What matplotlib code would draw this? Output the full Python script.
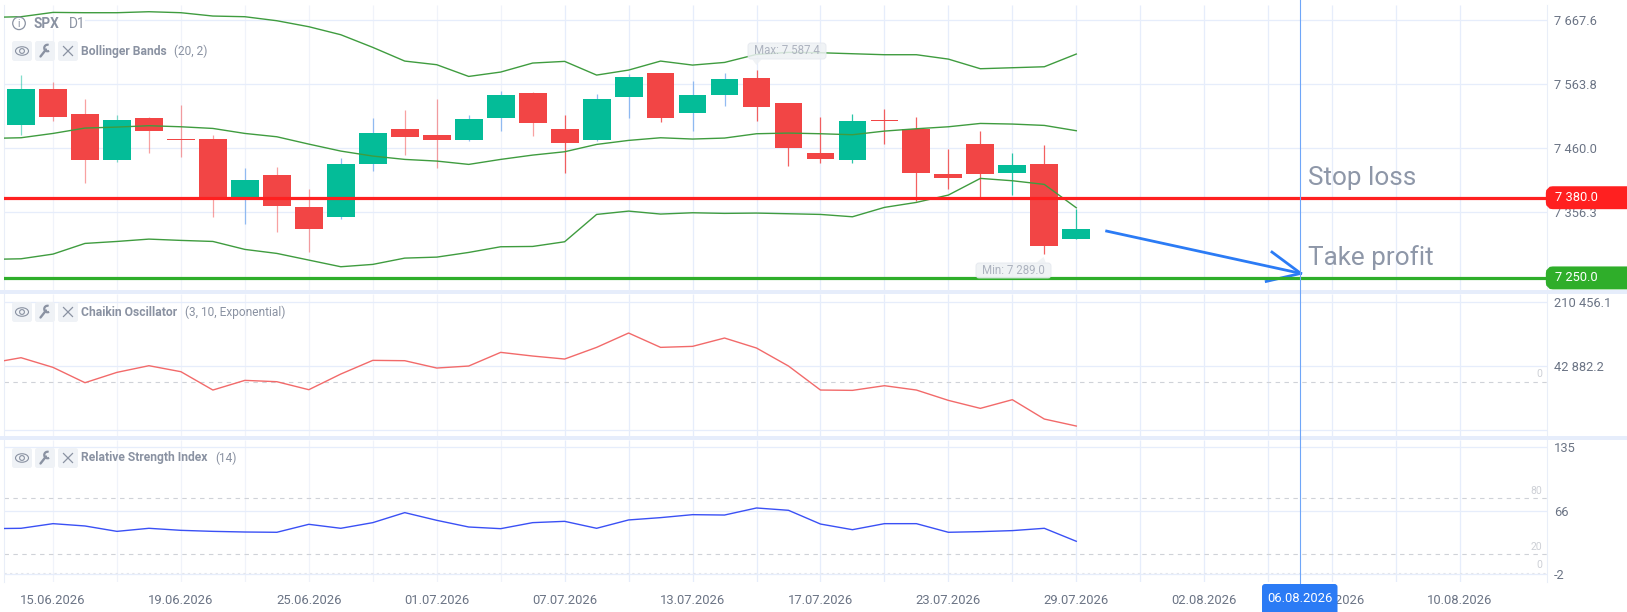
import matplotlib
matplotlib.use("Agg")
import matplotlib.pyplot as plt
from matplotlib.patches import Circle, Ellipse, Arc, FancyBboxPatch, Polygon, Rectangle

plt.rcParams['font.family'] = ['Roboto', 'DejaVu Sans']

W, H = 1627, 612

# candles, one per session
opens = [7497.7, 7555.6, 7515.6, 7441.0, 7509.1, 7475.6, 7475.6, 7378.3, 7417.2, 7364.3, 7348.6, 7434.5,
         7490.7, 7481.0, 7473.4, 7509.1, 7549.1, 7491.3, 7473.4, 7543.1, 7581.5, 7517.7, 7546.9, 7574.0,
         7532.9, 7452.9, 7441.6, 7505.9, 7491.3, 7418.3, 7467.0, 7420.0, 7434.5, 7313.0]
closes = [7555.6, 7510.2, 7441.0, 7505.9, 7488.6, 7474.0, 7380.5, 7408.6, 7367.0, 7329.7, 7434.5, 7485.3,
          7477.8, 7474.0, 7507.5, 7546.4, 7501.5, 7469.1, 7539.9, 7575.6, 7509.6, 7546.9, 7572.3, 7526.4,
          7460.0, 7443.2, 7504.2, 7503.7, 7419.4, 7411.8, 7418.3, 7433.4, 7301.6, 7329.7]
highs = [7578.8, 7566.9, 7539.4, 7514.5, 7510.2, 7530.2, 7481.5, 7428.6, 7429.1, 7393.5, 7444.8, 7509.1,
         7522.1, 7539.9, 7514.0, 7552.9, 7550.7, 7514.0, 7548.0, 7579.9, 7581.5, 7569.1, 7582.6, 7587.4,
         7532.9, 7511.3, 7515.6, 7524.2, 7510.7, 7458.8, 7488.6, 7451.8, 7465.3, 7361.0]
lows = [7481.5, 7504.8, 7404.3, 7437.8, 7452.9, 7445.3, 7349.1, 7337.3, 7324.8, 7292.4, 7344.8, 7423.2,
        7449.1, 7428.6, 7471.8, 7488.6, 7479.9, 7420.5, 7472.4, 7509.6, 7503.1, 7488.0, 7529.1, 7504.8,
        7431.8, 7436.7, 7435.6, 7467.0, 7374.5, 7394.0, 7381.6, 7384.3, 7289.0, 7312.4]

# indicators start one session before the first candle
bb_upper = [7672.3, 7673.4, 7680.4, 7679.9, 7679.9, 7681.5, 7679.9, 7674.5, 7673.4, 7666.9, 7657.2, 7644.2,
            7623.7, 7601.5, 7595.6, 7576.6, 7583.7, 7598.3, 7601.0, 7578.8, 7586.9, 7601.5, 7595.0, 7599.3,
            7612.3, 7615.6, 7615.0, 7613.4, 7611.8, 7611.8, 7604.7, 7589.1, 7590.7, 7592.3, 7612.9]
bb_middle = [7476.1, 7477.2, 7484.2, 7492.9, 7494.5, 7496.7, 7495.0, 7492.3, 7484.2, 7478.8, 7466.9, 7455.6,
             7447.5, 7442.1, 7439.4, 7434.0, 7442.1, 7449.1, 7454.5, 7466.4, 7472.9, 7477.2, 7475.1, 7476.7,
             7483.7, 7484.8, 7483.7, 7482.1, 7488.0, 7491.8, 7495.0, 7500.4, 7499.4, 7497.2, 7488.6]
bb_lower = [7280.0, 7281.0, 7288.6, 7305.9, 7309.1, 7312.9, 7310.8, 7309.1, 7296.2, 7289.7, 7278.9, 7268.1,
            7271.9, 7282.1, 7283.7, 7291.3, 7300.5, 7301.0, 7308.6, 7352.9, 7358.3, 7353.5, 7355.6, 7354.6,
            7355.1, 7354.0, 7352.9, 7349.1, 7364.3, 7372.4, 7384.3, 7411.3, 7407.5, 7401.6, 7363.7]
chaikin = [48992, 63829, 38518, -1631, 25426, 42882, 27172, -20832, 4479, 988, -19960, 21062,
           56847, 55974, 36772, 42009, 77794, 68193, 60338, 90886, 128416, 90886, 93504, 115324,
           89140, 42009, -20832, -21705, -9486, -20832, -47889, -68836, -46144, -96766, -115095]
rsi = [47.3, 47.7, 52.7, 50.2, 44.4, 47.7, 45.5, 44.4, 43.7, 43.4, 52.0, 47.7,
       53.8, 64.6, 56.3, 49.1, 47.3, 53.8, 55.2, 47.7, 56.7, 59.2, 62.4, 62.0,
       69.6, 67.1, 52.3, 46.2, 52.7, 52.7, 43.4, 44.1, 45.2, 47.7, 33.7]

# levels and axis labels
stop_loss = 7380.0
take_profit = 7250.0
price_ticks = [7667.6, 7563.8, 7460.0, 7356.3]
price_labels = ['7 667.6', '7 563.8', '7 460.0', '7 356.3']
chaikin_ticks = [210456.1, 42882.2, -124691.7]
chaikin_labels = ['210 456.1', '42 882.2', '']
rsi_ticks = [135, 66, -2]
rsi_labels = ['135', '66', '-2']
rsi_levels = [80, 20]
date_ticks = [1, 5, 9, 13, 17, 21, 25, 29, 33, 37, 41, 45]
date_labels = ['15.06.2026', '19.06.2026', '25.06.2026', '01.07.2026', '07.07.2026', '13.07.2026',
               '17.07.2026', '23.07.2026', '29.07.2026', '02.08.2026', '07.08.2026', '10.08.2026']
grid_ticks = list(range(1, 47, 2))
cursor_session = 40
cursor_label = '06.08.2026'
arrow_x = [33.95, 40.02]
arrow_y = [7325.9, 7257.3]
arrow_wing_x = [39.12, 40.02, 38.94]
arrow_wing_y = [7291.9, 7257.3, 7244.3]

GREEN = '#04bc98'
RED = '#f24545'
BAND = '#3f9c3f'
GRID = '#e6edfb'
TEXT = '#6b7485'
MUTED = '#8a92a2'
BLUE = '#2b7bf5'
# these up candles have blue looking wicks in the source picture
blue_wicks = [7, 10, 11, 14, 15, 18, 19, 21, 22]

XLIM = (-0.532, 47.72)


def add_pane(fig, top, bottom, ylim):
    """Axes placed by pixel rows, sharing the session scale."""
    ax = fig.add_axes([4 / W, 1 - bottom / H, (1547 - 4) / W, (bottom - top) / H])
    ax.set_xlim(*XLIM)
    ax.set_ylim(*ylim)
    ax.patch.set_alpha(0)
    for side in ['top', 'bottom']:
        ax.spines[side].set_visible(False)
    for side in ['left', 'right']:
        ax.spines[side].set_color('#e9eef8')
        ax.spines[side].set_linewidth(0.8)
    ax.yaxis.tick_right()
    ax.tick_params(axis='y', length=0, pad=5.0, labelsize=9.3, labelcolor=TEXT)
    ax.tick_params(axis='x', length=0, pad=9, labelsize=9.35, labelcolor=TEXT)
    ax.set_xticks([])
    colors = ['#f0f3fa' if t < 17 else GRID for t in grid_ticks]
    ax.vlines(grid_ticks, *ylim, colors=colors, linewidth=0.9, zorder=0)
    return ax


def draw_candles(ax):
    for i in range(len(opens)):
        up = closes[i] >= opens[i]
        color = GREEN if up else RED
        wick = '#7fb0f0' if i in blue_wicks else color
        alpha = 0.5 if i < 17 and i not in blue_wicks else 0.85
        ax.vlines(i, lows[i], highs[i], colors=wick, linewidth=0.9, alpha=alpha, zorder=2)
        ax.bar(i, abs(closes[i] - opens[i]), bottom=min(opens[i], closes[i]), width=0.87,
               color=color, edgecolor='none', zorder=3)


def level_tag(ov, y, value, color):
    ov.add_patch(FancyBboxPatch((1550, y - 7.3), 90, 14.6, boxstyle='round,pad=0,rounding_size=3',
                                mutation_aspect=1, facecolor=color, edgecolor=color, linewidth=6,
                                zorder=6, clip_on=True))
    ov.text(1555.5, y, value, color='white', fontsize=9.3, va='center', ha='left', zorder=7)


def hint_tag(ov, box, tip, base, text):
    x0, y0, x1, y1 = box
    ov.add_patch(FancyBboxPatch((x0, y0), x1 - x0, y1 - y0, boxstyle='round,pad=0,rounding_size=3',
                                facecolor='#eef1f4', edgecolor='#e4e8ee', linewidth=0.7, alpha=0.85, zorder=1))
    ov.add_patch(Polygon([base[0], tip, base[1]], facecolor='#eef1f4', edgecolor='none', alpha=0.85, zorder=1))
    ov.text((x0 + x1) / 2, (y0 + y1) / 2, text, color='#adb3bf', fontsize=8.3, ha='center', va='center', zorder=2)


def indicator_row(ov, y, name, params, params_x):
    """Eye, wrench and close buttons followed by the indicator name."""
    for x0 in [12, 35, 58]:
        ov.add_patch(FancyBboxPatch((x0, y - 10), 20, 20, boxstyle='round,pad=0,rounding_size=2.5',
                                    facecolor='#eff2f6', edgecolor='none', zorder=3))
    # eye
    ov.add_patch(Ellipse((22, y), 13, 8.5, fill=False, edgecolor=MUTED, linewidth=0.8, zorder=4))
    ov.add_patch(Circle((22, y), 2.4, fill=False, edgecolor=MUTED, linewidth=0.8, zorder=4))
    # wrench
    ov.plot([40.5, 46], [y + 5.5, y - 1.5], color=MUTED, linewidth=1.7, solid_capstyle='round', zorder=4)
    ov.add_patch(Arc((47.5, y - 3), 6.5, 6.5, theta1=60, theta2=290, edgecolor=MUTED, linewidth=1.6, zorder=4))
    # close
    ov.plot([63.5, 72.5], [y - 4.5, y + 4.5], color=MUTED, linewidth=0.9, zorder=4)
    ov.plot([63.5, 72.5], [y + 4.5, y - 4.5], color=MUTED, linewidth=0.9, zorder=4)
    ov.text(81.3, y, name, color=MUTED, fontsize=8.7, fontweight='bold', va='center', zorder=4)
    ov.text(params_x, y, params, color=MUTED, fontsize=8.6, va='center', zorder=4)


def main():
    fig = plt.figure(figsize=(W / 100, H / 100), dpi=100, facecolor='white')

    price_ax = add_pane(fig, 5, 290, (7230.4, 7692.4))
    osc_ax = add_pane(fig, 294, 436, (-141180, 230617))
    rsi_ax = add_pane(fig, 440, 582, (-10.2, 142.9))
    sessions = list(range(-1, len(opens)))

    # price pane
    price_ax.set_yticks(price_ticks, price_labels)
    price_ax.grid(axis='y', color=GRID, linewidth=0.9, zorder=0)
    draw_candles(price_ax)
    for band in [bb_upper, bb_middle, bb_lower]:
        price_ax.plot(sessions, band, color=BAND, linewidth=1.0, zorder=4)
    price_ax.plot(arrow_x, arrow_y, color=BLUE, linewidth=2.0, zorder=5)
    price_ax.plot(arrow_wing_x, arrow_wing_y, color=BLUE, linewidth=2.0, zorder=5)
    price_ax.axhline(stop_loss, color='#ff2020', linewidth=2.3, zorder=6)
    price_ax.axhline(take_profit, color='#2fae2a', linewidth=2.3, zorder=6)

    # oscillator pane
    osc_ax.set_yticks(chaikin_ticks, chaikin_labels)
    osc_ax.grid(axis='y', color=GRID, linewidth=0.9, zorder=0)
    osc_ax.axhline(0, color='#cfd2d8', linewidth=0.8, linestyle=(0, (4, 4)), zorder=1)
    osc_ax.plot(sessions, chaikin, color='#f26a6a', linewidth=1.0, zorder=3)

    # rsi pane
    rsi_ax.set_yticks(rsi_ticks, rsi_labels)
    rsi_ax.grid(axis='y', color=GRID, linewidth=0.9, zorder=0)
    for level in rsi_levels:
        rsi_ax.axhline(level, color='#cfd2d8', linewidth=0.8, linestyle=(0, (4, 4)), zorder=1)
    rsi_ax.axhline(0, color='#e3e5ea', linewidth=0.8, linestyle=(0, (2, 3)), zorder=1)
    rsi_ax.plot(sessions, rsi, color='#3a50f5', linewidth=1.0, zorder=3)
    rsi_ax.set_xticks(date_ticks, date_labels)

    # overlay in pixel rows for the chart furniture
    ov = fig.add_axes([0, 0, 1, 1], zorder=10)
    ov.set_xlim(0, W)
    ov.set_ylim(H, 0)
    ov.axis('off')
    ov.patch.set_alpha(0)

    def row(ax, value):
        return H - ax.transData.transform((0, value))[1]

    for y0 in [290, 436]:
        ov.add_patch(Rectangle((0, y0), W, 4, facecolor=GRID, edgecolor='none', zorder=1))

    cursor_x = price_ax.transData.transform((cursor_session, 0))[0]
    ov.plot([cursor_x, cursor_x], [0, 586], color='#6fa6f8', linewidth=0.8, zorder=5)

    ov.text(1307.7, 185, 'Stop loss', color='#8e97a8', fontsize=18.8, va='baseline', zorder=5)
    ov.text(1307.7, 265, 'Take profit', color='#8e97a8', fontsize=18.8, va='baseline', zorder=5)

    level_tag(ov, row(price_ax, stop_loss), '7 380.0', '#ff2020')
    level_tag(ov, row(price_ax, take_profit), '7 250.0', '#2fae2a')

    ov.add_patch(FancyBboxPatch((1262, 584), 75.5, 40, boxstyle='round,pad=0,rounding_size=3',
                                facecolor=BLUE, edgecolor='none', zorder=6))
    ov.text((1262 + 1337.5) / 2, 599, cursor_label, color='white', fontsize=9.35,
            ha='center', va='center', zorder=7)

    hint_tag(ov, (748, 43, 826, 59), (756.4, 65), [(752, 59), (762, 59)], 'Max: 7 587.4')
    hint_tag(ov, (976, 263, 1051, 278), (1043.6, 257), [(1036, 263), (1046, 263)], 'Min: 7 289.0')

    # chart title block
    ov.add_patch(Rectangle((5, 18), 80, 11, facecolor='white', edgecolor='none', zorder=2))
    ov.add_patch(Circle((19, 23.3), 6.3, fill=False, edgecolor=MUTED, linewidth=0.9, zorder=3))
    ov.text(19, 23.6, 'i', color=MUTED, fontsize=7.5, ha='center', va='center', zorder=3)
    ov.text(34, 23.6, 'SPX', color=MUTED, fontsize=9.8, fontweight='bold', va='center', zorder=3)
    ov.text(68.6, 23.6, 'D1', color=MUTED, fontsize=9.8, va='center', zorder=3)

    indicator_row(ov, 51, 'Bollinger Bands', '(20, 2)', 174)
    indicator_row(ov, 312, 'Chaikin Oscillator', '(3, 10, Exponential)', 184.6)
    indicator_row(ov, 458, 'Relative Strength Index', '(14)', 215)

    # faint numbers above the dashed levels
    ov.text(1542, 374, '0', color='#cdd0d6', fontsize=7.5, ha='right', va='center')
    ov.text(1542, 490.5, '80', color='#cdd0d6', fontsize=7.5, ha='right', va='center')
    ov.text(1542, 546.7, '20', color='#cdd0d6', fontsize=7.5, ha='right', va='center')
    ov.text(1542, 565.3, '0', color='#cdd0d6', fontsize=7.5, ha='right', va='center')

    fig.savefig('out.png', dpi=100)


if __name__ == "__main__":
    main()
